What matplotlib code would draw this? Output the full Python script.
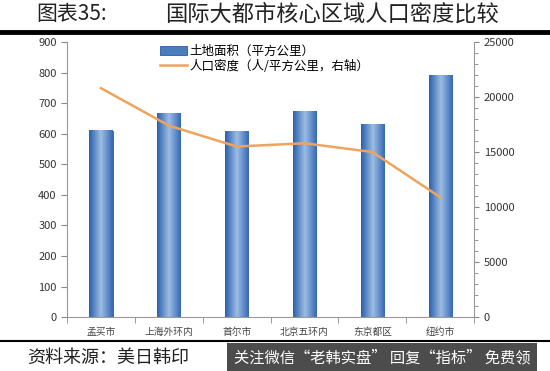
import numpy as np
import matplotlib.pyplot as plt
from matplotlib.ticker import MultipleLocator
from matplotlib.colors import LinearSegmentedColormap

plt.rcParams['font.family'] = ['Noto Sans CJK SC', 'DejaVu Sans']

# ---------- data ----------
cities = ["孟买市", "上海外环内", "首尔市", "北京五环内", "东京都区", "纽约市"]
land_area = [609, 665, 607, 672, 630, 790]           # 平方公里
density = [20800, 17400, 15500, 15800, 15000, 10900]  # 人/平方公里

fig = plt.figure(figsize=(5.5, 3.71), dpi=100)
ax = fig.add_axes([0.122, 0.145, 0.74, 0.742])
ax2 = ax.twinx()

x = np.arange(len(cities))
bars = ax.bar(x, land_area, width=0.34, color="#4a7ebb", edgecolor="#2a5ea6",
              linewidth=0.6, label="土地面积（平方公里）", zorder=2)

# gradient fill on each bar
cmap = LinearSegmentedColormap.from_list("bar", ["#2a60ab", "#9dbde3", "#3569b5"])
grad = np.linspace(0, 1, 64).reshape(1, -1)
for b in bars:
    bx, by = b.get_x(), b.get_y()
    ax.imshow(grad, cmap=cmap, aspect="auto", zorder=2.5,
              extent=(bx, bx + b.get_width(), by, by + b.get_height()))
ax.set_xlim(-0.5, len(cities) - 0.5)

ln, = ax2.plot(x, density, color="#f0a35e", lw=1.8, label="人口密度（人/平方公里，右轴）")

ax.set_ylim(0, 900)
ax2.set_ylim(0, 25000)
ax.yaxis.set_major_locator(MultipleLocator(100))
ax2.yaxis.set_major_locator(MultipleLocator(5000))
ax2.yaxis.set_minor_locator(MultipleLocator(1000))

ax.set_xticks(x)
ax.set_xticklabels(cities, fontsize=7, color="#444444")
ax.set_xticks(np.arange(len(cities) + 1) - 0.5, minor=True)
ax.tick_params(axis="x", which="major", length=0, pad=7)
ax.tick_params(axis="x", which="minor", length=4, color="#888888", direction="out")
ax.tick_params(axis="y", labelsize=8, length=4, color="#888888", labelcolor="#333333")
ax2.tick_params(axis="y", which="both", labelsize=8, color="#888888", labelcolor="#333333")
ax2.tick_params(axis="y", which="minor", length=3)

for a in (ax, ax2):
    for s in a.spines.values():
        s.set_color("#999999")
        s.set_linewidth(0.8)
    a.spines["top"].set_visible(False)
ax.spines["right"].set_visible(False)
ax2.spines["left"].set_visible(False)
ax2.spines["bottom"].set_visible(False)

leg = ax.legend([bars, ln], [bars.get_label(), ln.get_label()],
                loc="upper left", bbox_to_anchor=(0.2, 1.03), frameon=False,
                fontsize=9, handlelength=2.2, handletextpad=0.2, labelspacing=0.15)

# title and frame lines
fig.text(0.065, 0.962, "图表35:", fontsize=15, va="center", color="#222222")
fig.text(0.3, 0.962, "国际大都市核心区域人口密度比较", fontsize=16, va="center", color="#222222")
fig.add_artist(plt.Line2D([0.0, 1.0], [0.914, 0.914], color="black", lw=3.5))
fig.add_artist(plt.Line2D([0.0, 1.0], [0.08, 0.08], color="black", lw=1.5))
fig.text(0.05, 0.035, "资料来源：美日韩印", fontsize=13, style="italic", va="center", color="#222222")
fig.text(0.425, 0.035, "关注微信“老韩实盘” 回复“指标” 免费领", fontsize=11, va="center",
         color="white", bbox=dict(boxstyle="square,pad=0.45", fc="#333333", ec="none", alpha=0.88))

fig.savefig("out.png", dpi=100)
